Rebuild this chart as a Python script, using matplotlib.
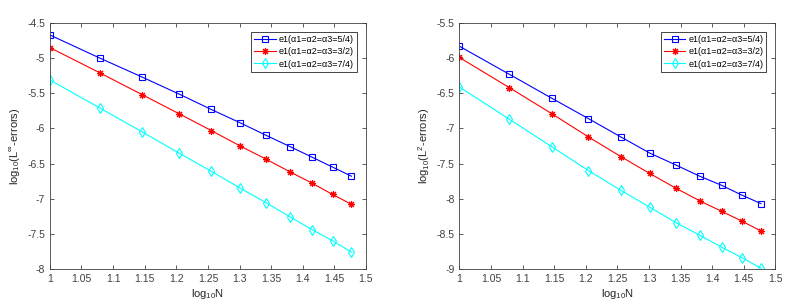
import matplotlib

matplotlib.use("Agg")
import matplotlib.pyplot as plt
import numpy as np
from matplotlib.ticker import FuncFormatter

plt.rcParams["font.family"] = ["Liberation Sans", "DejaVu Sans"]
plt.rcParams["mathtext.fontset"] = "custom"
plt.rcParams["mathtext.rm"] = "Liberation Sans"
plt.rcParams["mathtext.it"] = "Liberation Sans:italic"
plt.rcParams["axes.unicode_minus"] = False

N = [10, 12, 14, 16, 18, 20, 22, 24, 26, 28, 30]
log_n = np.log10(N)

labels = [
    "e1(\u03b11=\u03b12=\u03b13=5/4)",
    "e1(\u03b11=\u03b12=\u03b13=3/2)",
    "e1(\u03b11=\u03b12=\u03b13=7/4)",
]

linf_54 = [-4.67, -5.00, -5.27, -5.51, -5.73, -5.92, -6.10, -6.26, -6.41, -6.55, -6.68]
linf_32 = [-4.85, -5.21, -5.52, -5.79, -6.03, -6.25, -6.44, -6.62, -6.78, -6.94, -7.08]
linf_74 = [-5.31, -5.71, -6.05, -6.35, -6.61, -6.85, -7.06, -7.26, -7.44, -7.60, -7.76]

l2_54 = [-5.83, -6.23, -6.57, -6.86, -7.12, -7.35, -7.52, -7.68, -7.81, -7.95, -8.07]
l2_32 = [-5.99, -6.42, -6.79, -7.12, -7.40, -7.64, -7.85, -8.03, -8.18, -8.32, -8.46]
l2_74 = [-6.41, -6.87, -7.26, -7.60, -7.88, -8.12, -8.34, -8.52, -8.69, -8.84, -8.99]

styles = [("#0000ff", "s"), ("#ff0000", (8, 2, 0)), ("#00ffff", "d")]
grey = "#404040"
fmt = FuncFormatter(lambda v, _: f"{v:g}")


def draw(ax, series, ylim, ylabel):
    for vals, (color, marker), label in zip(series, styles, labels):
        ax.plot(log_n, vals, color=color, marker=marker, markersize=5,
                markerfacecolor="none", markeredgewidth=0.8, linewidth=0.8,
                label=label)
    ax.set_xlim(1, 1.5)
    ax.set_ylim(*ylim)
    ax.set_xticks(np.arange(1, 1.501, 0.05))
    ax.set_yticks(np.arange(ylim[0], ylim[1] + 0.01, 0.5))
    ax.xaxis.set_major_formatter(fmt)
    ax.yaxis.set_major_formatter(fmt)
    ax.tick_params(direction="in", top=True, right=True, length=3,
                   width=0.6, colors=grey, labelsize=7.5, pad=3.5)
    for sp in ax.spines.values():
        sp.set_color(grey)
        sp.set_linewidth(0.6)
    ax.set_xlabel("log$_{10}$N", fontsize=8, color="#262626", labelpad=2)
    ax.set_ylabel(ylabel, fontsize=8, color="#262626", labelpad=3)
    leg = ax.legend(loc="upper right", fontsize=6.5, frameon=True, fancybox=False,
                    edgecolor="#262626", framealpha=1, borderpad=0.35,
                    handlelength=2.4, handletextpad=0.3, labelspacing=0.35,
                    borderaxespad=1.0)
    leg.get_frame().set_linewidth(0.6)


fig = plt.figure(figsize=(7.92, 3.07), dpi=100)
ax1 = fig.add_axes([0.063, 0.124, 0.399, 0.801])
ax2 = fig.add_axes([0.580, 0.124, 0.399, 0.801])

draw(ax1, [linf_54, linf_32, linf_74], (-8, -4.5), "log$_{10}$(L$^{\\infty}$-errors)")
draw(ax2, [l2_54, l2_32, l2_74], (-9, -5.5), "log$_{10}$(L$^{2}$-errors)")

fig.savefig("out.png", dpi=100)
